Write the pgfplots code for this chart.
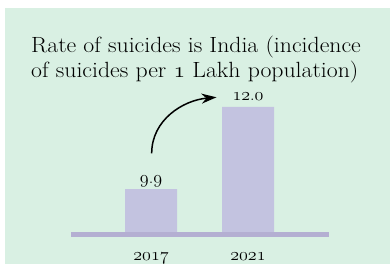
\documentclass[border=0pt]{standalone}
\usepackage{fix-cm}
\usepackage{graphicx}
\usepackage{pgfplots}
\pgfplotsset{compat=1.18}
\usetikzlibrary{arrows.meta}
\definecolor{bg}{RGB}{217,240,227}
\definecolor{barc}{RGB}{195,195,224}
\definecolor{basec}{RGB}{180,175,210}
\newcommand\osn[1]{{\usefont{OML}{cmm}{m}{it}#1}}
\begin{document}
\begin{tikzpicture}[x=1pt,y=1pt]
\useasboundingbox (0,0) rectangle (390,264);
\fill[white] (0,0) rectangle (390,264);
\fill[bg] (5,0) rectangle (390,256);
\node[anchor=base west, inner sep=0, font=\fontsize{22}{24}\selectfont] at (31,211.7) {\scalebox{1.08}[1]{Rate of suicides is India (incidence}};
\node[anchor=base west, inner sep=0, font=\fontsize{22}{24}\selectfont] at (31,186) {\scalebox{1.08}[1]{of suicides per \osn{1} Lakh population)}};
\begin{axis}[at={(71pt,32pt)}, anchor=south west,
  width=258pt, height=125pt, scale only axis,
  xmin=-0.825, xmax=1.835, ymin=8.8, ymax=12, clip=false,
  ybar, bar width=52pt,
  axis line style={draw=none}, tick style={draw=none}, ytick=\empty,
  xtick={0,1}, xticklabels={\osn{2017},\osn{2021}},
  xticklabel style={anchor=base, yshift=-24pt, font=\fontsize{18}{20}\selectfont},
  point meta=explicit symbolic,
  nodes near coords,
  every node near coord/.append style={anchor=base, yshift=6pt, font=\fontsize{18}{20}\selectfont},
]
\addplot[fill=barc, draw=none] coordinates {(0,9.9) [\osn{9}.\osn{9}] (1,12.0) [\osn{12}.\osn{0}]};
\end{axis}
\draw[basec, line width=5pt] (71,29.5) -- (329,29.5);
\draw[line width=1.5pt, -{Stealth[length=15pt,width=10pt]}] (151.7,110.7) to[out=90,in=185] (216.5,166.7);
\end{tikzpicture}
\end{document}
